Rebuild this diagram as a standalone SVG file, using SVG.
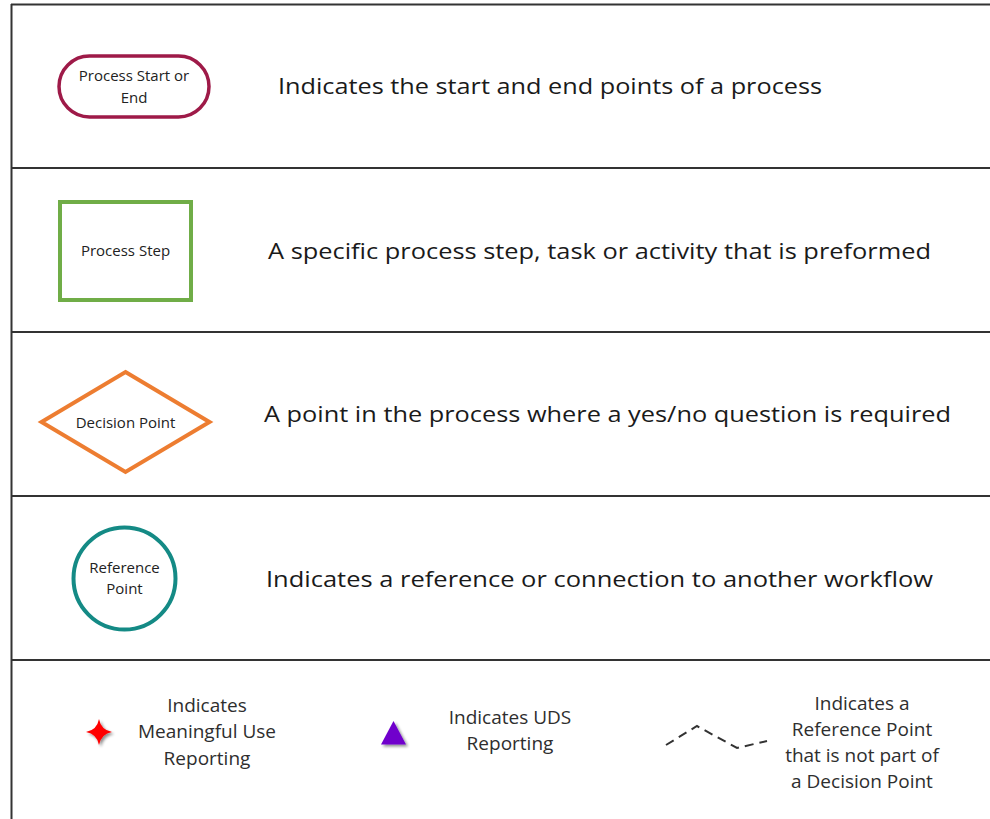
<svg xmlns="http://www.w3.org/2000/svg" width="990" height="819" viewBox="0 0 990 819">
  <defs>
    <style>
      .grid { stroke: #333333; stroke-width: 2; fill: none; }
      .lbl { font-family: "Open Sans", "Liberation Sans", sans-serif; fill: #222222; text-anchor: middle; }
      .small { font-size: 15px; }
      .desc { font-size: 21.5px; text-anchor: start; fill: #1a1a1a; }
      .note { font-size: 19px; fill: #2e2e2e; }
    </style>
    <filter id="drop" x="-50%" y="-50%" width="200%" height="200%">
      <feGaussianBlur in="SourceAlpha" stdDeviation="1.5"/>
      <feOffset dx="2" dy="2" result="b"/>
      <feComponentTransfer><feFuncA type="linear" slope="0.45"/></feComponentTransfer>
      <feMerge><feMergeNode/><feMergeNode in="SourceGraphic"/></feMerge>
    </filter>
  </defs>

  <rect width="990" height="819" fill="#ffffff"/>

  <!-- table rules -->
  <g id="table">
    <line class="grid" x1="11" y1="4.5" x2="990" y2="4.5"/>
    <line class="grid" x1="11.5" y1="4" x2="11.5" y2="819"/>
    <line class="grid" x1="11" y1="168" x2="990" y2="168"/>
    <line class="grid" x1="11" y1="332" x2="990" y2="332"/>
    <line class="grid" x1="11" y1="496" x2="990" y2="496"/>
    <line class="grid" x1="11" y1="660" x2="990" y2="660"/>
  </g>

  <!-- row 1: terminator -->
  <g id="start-end">
    <rect x="59" y="56" width="150" height="61" rx="30.5" fill="#ffffff" stroke="#9E1A48" stroke-width="3.5"/>
    <text class="lbl small" x="134" y="81">Process Start or</text>
    <text class="lbl small" x="134" y="103">End</text>
  </g>
  <text class="lbl desc" x="278" y="94" textLength="544" lengthAdjust="spacingAndGlyphs">Indicates the start and end points of a process</text>

  <!-- row 2: process step -->
  <g id="process-step">
    <rect x="60" y="202" width="131" height="98" fill="#ffffff" stroke="#70AD47" stroke-width="4"/>
    <text class="lbl small" x="125.5" y="256">Process Step</text>
  </g>
  <text class="lbl desc" x="268" y="259" textLength="663" lengthAdjust="spacingAndGlyphs">A specific process step, task or activity that is preformed</text>

  <!-- row 3: decision -->
  <g id="decision-point">
    <polygon points="125.5,372 209.5,422 125.5,472 41.5,422" fill="#ffffff" stroke="#ED7D31" stroke-width="4" stroke-linejoin="miter"/>
    <text class="lbl small" x="125.5" y="427.5">Decision Point</text>
  </g>
  <text class="lbl desc" x="264" y="422" textLength="687" lengthAdjust="spacingAndGlyphs">A point in the process where a yes/no question is required</text>

  <!-- row 4: reference point -->
  <g id="reference-point">
    <circle cx="124.5" cy="578.5" r="51" fill="#ffffff" stroke="#148A85" stroke-width="4"/>
    <text class="lbl small" x="124.5" y="573">Reference</text>
    <text class="lbl small" x="124.5" y="594">Point</text>
  </g>
  <text class="lbl desc" x="266" y="587" textLength="667" lengthAdjust="spacingAndGlyphs">Indicates a reference or connection to another workflow</text>

  <!-- row 5: reporting markers -->
  <g id="meaningful-use">
    <path d="M99,719 Q101,730 112,732 Q101,734 99,745 Q97,734 86,732 Q97,730 99,719 Z" fill="#FF0000" filter="url(#drop)"/>
    <text class="lbl note" x="207" y="711.5">Indicates</text>
    <text class="lbl note" x="207" y="738">Meaningful Use</text>
    <text class="lbl note" x="207" y="764.5">Reporting</text>
  </g>

  <g id="uds">
    <polygon points="393.5,721 406,744.5 381,744.5" fill="#6F00CC" filter="url(#drop)"/>
    <text class="lbl note" x="510" y="723.5">Indicates UDS</text>
    <text class="lbl note" x="510" y="749.5">Reporting</text>
  </g>

  <g id="connectors">
    <polyline points="666,745 697,726 737,748 767,741" fill="none" stroke="#333333" stroke-width="2" stroke-dasharray="9,6"/>
  </g>

  <g id="external-reference">
    <text class="lbl note" x="862" y="709.5">Indicates a</text>
    <text class="lbl note" x="862" y="736">Reference Point</text>
    <text class="lbl note" x="862" y="762">that is not part of</text>
    <text class="lbl note" x="862" y="787.5">a Decision Point</text>
  </g>
</svg>
